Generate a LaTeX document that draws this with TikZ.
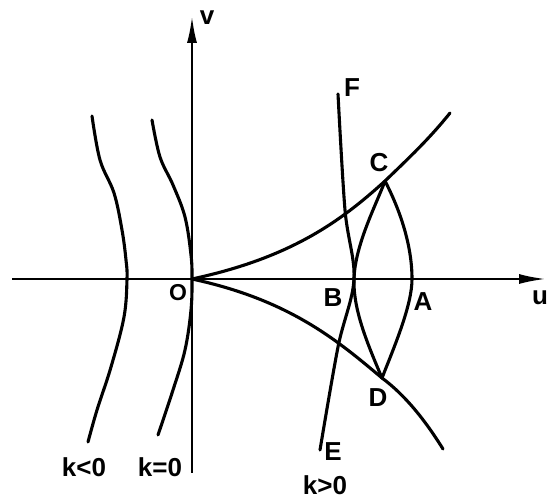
\documentclass[tikz,border=0pt]{standalone}
\usepackage{fontspec}
\setmainfont{Liberation Sans}
\usetikzlibrary{arrows.meta}
\begin{document}
\begin{tikzpicture}[x=1pt,y=-1pt,
  curve/.style={line width=3.1pt, line cap=round, line join=round},
  axisline/.style={line width=2.4pt, -{Latex[length=27pt,width=10pt]}},
  lab/.style={font=\fontsize{26}{30}\selectfont\bfseries, inner sep=0pt},
  smalllab/.style={font=\fontsize{23}{28}\selectfont\bfseries, inner sep=0pt}]
\useasboundingbox (0,0) rectangle (547,502);
% axes
\coordinate (O) at (192,279);
\coordinate (uL) at (12,279);
\coordinate (uR) at (546,279);
\coordinate (vB) at (192,473);
\coordinate (vT) at (192,16);
\draw[axisline] (uL) -- (uR);
\draw[axisline] (vB) -- (vT);
% points
\coordinate (A) at (412,279);
\coordinate (B) at (354,279);
\coordinate (C) at (385,181);
\coordinate (D) at (382,378);
\coordinate (E) at (320,450);
\coordinate (F) at (338,94);
\coordinate (U1) at (450,113);
\coordinate (L1) at (443,449);
% k<0 and k=0 curves
\draw[curve] plot[smooth,tension=0.6] coordinates {(92,116) (100,160) (114,193) (122,230) (126,260) (127,279) (124,317) (111,367) (97,410) (88,442)};
\draw[curve] plot[smooth,tension=0.6] coordinates {(152,120) (160,157) (173,185) (185,217) (191,255) (O) (191,310) (185,350) (173,390) (158,435)};
% cusp curves
\draw[curve] (O) .. controls (290,258) and (340,222) .. (C) .. controls (410,157) and (430,138) .. (U1);
\draw[curve] (O) .. controls (290,300) and (338,341) .. (D) .. controls (405,395) and (425,420) .. (L1);
% curve EF
\draw[curve] plot[smooth,tension=0.55] coordinates {(F) (345,210) (B) (338,347) (E)};
% lens
\draw[curve] (C) .. controls (400,210) and (412,245) .. (A) .. controls (412,305) and (395,345) .. (D);
\draw[curve] (C) .. controls (376,205) and (355,245) .. (B) .. controls (353,310) and (368,345) .. (D);
% labels
\node[lab] (lv) at (207,18) {v};
\node[lab] (lu) at (540,298) {u};
\node[smalllab] (lO) at (178,293) {O};
\node[lab] (lA) at (423,302) {A};
\node[lab] (lB) at (333,298) {B};
\node[lab] (lC) at (379,163) {C};
\node[lab] (lD) at (378,398) {D};
\node[lab] (lE) at (333,452) {E};
\node[lab] (lF) at (352,88) {F};
\node[lab] (k1) at (84,467) {k<0};
\node[lab] (k2) at (160,467) {k=0};
\node[lab] (k3) at (325,485) {k>0};
\end{tikzpicture}
\end{document}
